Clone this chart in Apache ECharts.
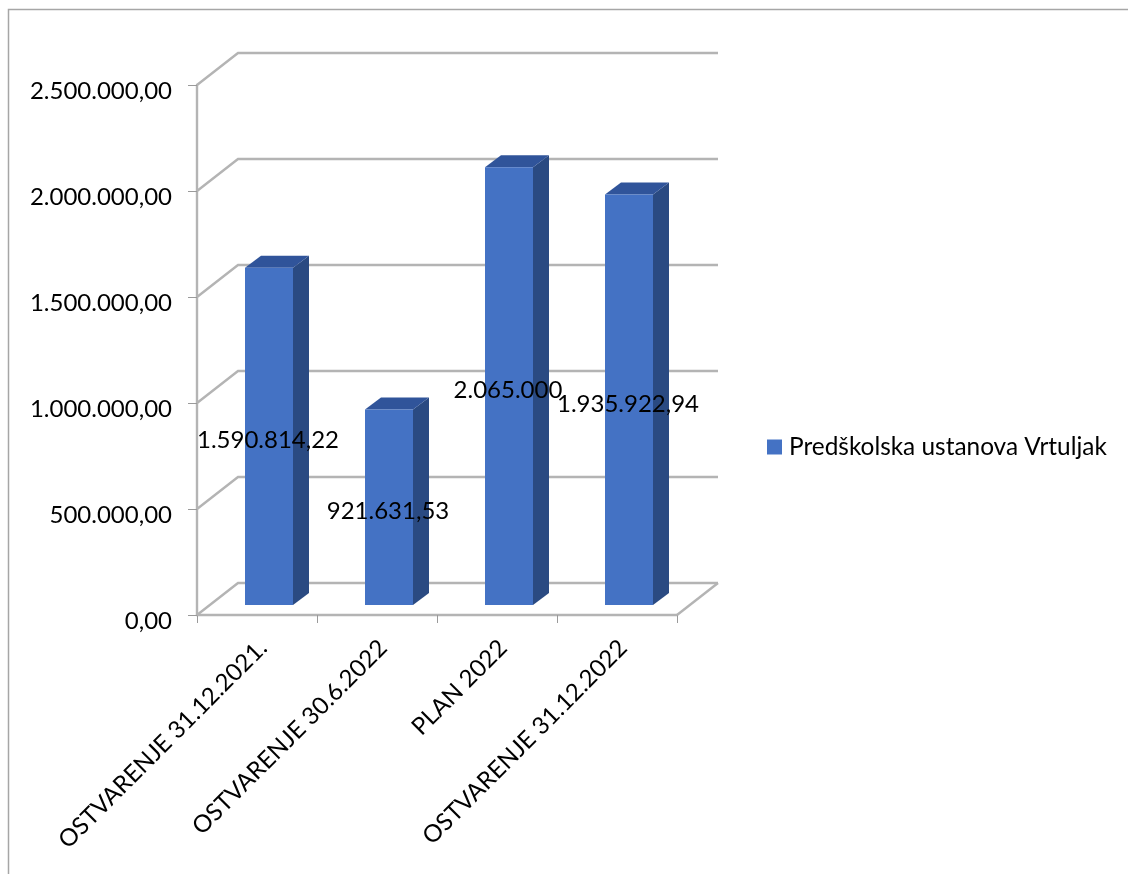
<!DOCTYPE html>
<html>
<head>
<meta charset="utf-8">
<style>html,body{margin:0;padding:0;background:#fff;overflow:hidden}#c{width:1128px;height:874px}</style>
<script src="https://cdn.jsdelivr.net/npm/echarts@6/dist/echarts.min.js"></script>
</head>
<body>
<div id="c"></div>
<script>
const categories = ['OSTVARENJE 31.12.2021.', 'OSTVARENJE 30.6.2022', 'PLAN 2022', 'OSTVARENJE 31.12.2022'];
const seriesName = 'Predškolska ustanova Vrtuljak';
const values = [1590814.22, 921631.53, 2065000, 1935922.94];
const valueLabels = ['1.590.814,22', '921.631,53', '2.065.000', '1.935.922,94'];
const yTicks = [0, 500000, 1000000, 1500000, 2000000, 2500000];
const yTickLabels = ['0,00', '500.000,00', '1.000.000,00', '1.500.000,00', '2.000.000,00', '2.500.000,00'];

const FONT = 'Lato, "Open Sans", sans-serif';
const GRID = '#b4b4b4';
const WALL_DX = 41, WALL_DY = 32;
const BAR_DX = 16, BAR_DY = 12, BAR_W = 48, BAR_SHIFT = -12, BAR_LIFT = 10;

function renderWall(params, api) {
  const cs = params.coordSys;
  const y = api.coord([0, api.value(1)])[1];
  const left = cs.x, right = cs.x + cs.width;
  const children = [{
    type: 'polyline',
    shape: { points: [[left, y], [left + WALL_DX, y - WALL_DY], [right + WALL_DX, y - WALL_DY]] },
    style: { stroke: GRID, lineWidth: 2.4, fill: null }
  }];
  if (api.value(1) === 0) {
    children.push({
      type: 'line',
      shape: { x1: right, y1: y, x2: right + WALL_DX, y2: y - WALL_DY },
      style: { stroke: GRID, lineWidth: 2.4 }
    });
  }
  return { type: 'group', children };
}

function renderBar(params, api) {
  const i = api.value(0), v = api.value(1);
  const c = api.coord([i, 0]);
  const x0 = c[0] + BAR_SHIFT, x1 = x0 + BAR_W;
  const yb = c[1] - BAR_LIFT;
  const yt = api.coord([i, v])[1] - BAR_LIFT;
  const mid = api.coord([i, v / 2]);
  return {
    type: 'group',
    children: [
      { type: 'polygon', shape: { points: [[x1, yb], [x1 + BAR_DX, yb - BAR_DY], [x1 + BAR_DX, yt - BAR_DY], [x1, yt]] }, style: { fill: '#2a4a82' } },
      { type: 'polygon', shape: { points: [[x0, yt], [x0 + BAR_DX, yt - BAR_DY], [x1 + BAR_DX, yt - BAR_DY], [x1, yt]] }, style: { fill: '#30549a' } },
      { type: 'rect', shape: { x: x0, y: yt, width: BAR_W, height: yb - yt }, style: { fill: '#4472c4' } },
      { type: 'text', z2: 100, style: { x: c[0] + 11, y: mid[1] - 6, text: valueLabels[i], fill: '#000', font: '24px ' + FONT, textAlign: 'center', textVerticalAlign: 'middle' } }
    ]
  };
}

const chart = echarts.init(document.getElementById('c'), null, { renderer: 'canvas' });
chart.setOption({
  animation: false,
  backgroundColor: '#fff',
  graphic: [{
    type: 'rect', silent: true, z: -1,
    shape: { x: 8.5, y: 9.5, width: 1140, height: 890 },
    style: { fill: null, stroke: '#a6a6a6', lineWidth: 1.5 }
  }],
  legend: {
    data: [seriesName], left: 762, top: 430, icon: 'rect', itemWidth: 15, itemHeight: 15, itemGap: 8,
    textStyle: { fontFamily: FONT, fontSize: 24.4, color: '#000', padding: [0, 0, 0, 2] }
  },
  grid: { left: 197, top: 85, width: 480, height: 530 },
  xAxis: {
    type: 'category', data: categories,
    axisLine: { show: true, onZero: false, lineStyle: { color: GRID, width: 2.4 } },
    axisTick: { show: true, alignWithLabel: false, length: 8, lineStyle: { color: '#9a9a9a', width: 1 } },
    axisLabel: { rotate: 45, interval: 0, margin: 23, verticalAlign: 'top', lineHeight: 17, color: '#000', fontFamily: FONT, fontSize: 24 },
    splitLine: { show: false }
  },
  yAxis: {
    type: 'value', min: 0, max: 2500000, interval: 500000,
    axisLine: { show: true, lineStyle: { color: GRID, width: 2.4 } },
    axisTick: { show: true, length: 9, lineStyle: { color: '#9a9a9a', width: 1 } },
    axisLabel: { margin: 25, verticalAlign: 'top', lineHeight: 12, color: '#000', fontFamily: FONT, fontSize: 24,
      formatter: (v) => yTickLabels[yTicks.indexOf(v)] },
    splitLine: { show: false }
  },
  series: [
    { type: 'custom', name: 'walls', silent: true, renderItem: renderWall, clip: false, z: 1,
      data: yTicks.map((v, i) => [i, v]), encode: { x: 0, y: 1 } },
    { type: 'custom', name: seriesName, renderItem: renderBar, clip: false, z: 3,
      itemStyle: { color: '#4472c4' },
      data: values.map((v, i) => [i, v]), encode: { x: 0, y: 1 } }
  ]
});
</script>
</body>
</html>
